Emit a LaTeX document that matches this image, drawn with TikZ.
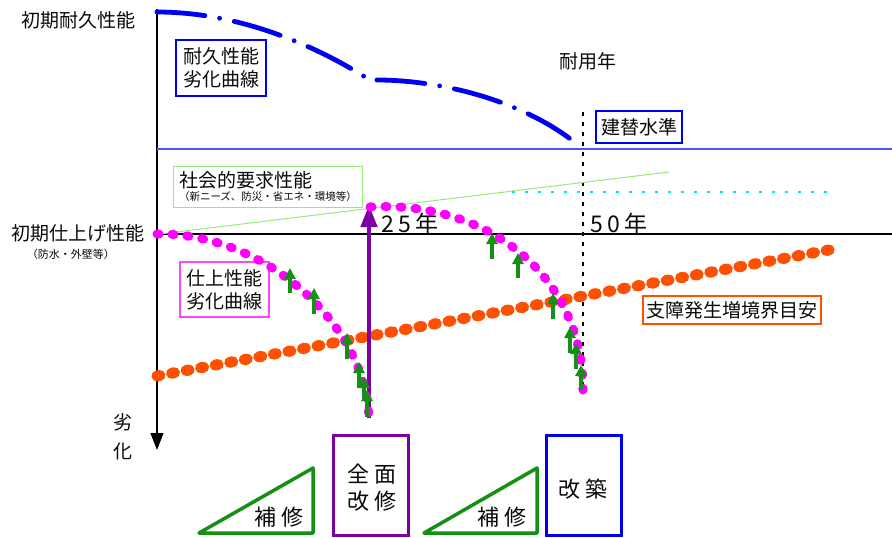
\documentclass[tikz,border=0pt]{standalone}
\usepackage{fontspec}
\newfontfamily\jpfont{Noto Sans CJK JP}
\usetikzlibrary{arrows.meta}
\definecolor{durBlue}{RGB}{0,0,240}
\definecolor{lineBlue}{RGB}{80,80,255}
\definecolor{finMagenta}{RGB}{255,0,255}
\definecolor{boxMagenta}{RGB}{255,70,255}
\definecolor{riskOrange}{RGB}{255,80,0}
\definecolor{socGreen}{RGB}{150,235,120}
\definecolor{fixGreen}{RGB}{20,145,20}
\definecolor{renPurple}{RGB}{125,0,160}
\definecolor{txtDark}{RGB}{10,10,10}
\definecolor{refCyan}{RGB}{0,230,240}
\tikzset{labelBig/.style={font=\jpfont\fontsize{19}{23}\selectfont, inner sep=0pt, text=txtDark}}
\tikzset{labelSmall/.style={font=\jpfont\fontsize{11}{13}\selectfont, inner sep=0pt, text=txtDark}}
\tikzset{curveBox/.style={labelBig, draw, line width=1.2pt, align=center}}
\tikzset{workText/.style={font=\jpfont\fontsize{22}{27}\selectfont, inner sep=0pt, align=center, text=txtDark}}
\tikzset{yearText/.style={font=\jpfont\fontsize{23}{26}\selectfont, inner sep=0pt, text=txtDark}}
\tikzset{fixArrow/.style={fixGreen, line width=3.5pt, -{Triangle[width=11pt,length=11pt]}}}
\tikzset{workFrame/.style={line width=3.5pt}}

\begin{document}
\begin{tikzpicture}[x=1pt,y=-1pt]
\useasboundingbox (0,0) rectangle (892,538);

\coordinate (axTop) at (157,9);
\coordinate (axBot) at (157,450);
\draw[line width=1.2pt, -{Triangle[width=13pt,length=17pt]}] (axTop) -- (axBot);
\draw[line width=1.2pt] (157,234) -- (892,234);
\draw[lineBlue, line width=1.5pt] (157,149) -- (892,149);

\node[labelBig] (durInit) at (78,20) {初期耐久性能};
\node[labelBig] (life) at (588,61) {耐用年};
\node[labelBig] (finInit) at (78,233) {初期仕上げ性能};
\node[labelSmall] (finNote) at (71,254) {（防水・外壁等）};
\node[font=\jpfont\fontsize{19}{29}\selectfont, inner sep=0pt, align=center, text=txtDark] (worse) at (123,437) {劣\\化};

\node[curveBox, draw=durBlue, minimum width=90pt, minimum height=56pt] (durBox) at (221,68) {耐久性能\\劣化曲線};
\node[curveBox, draw=durBlue, minimum width=86pt, minimum height=32pt] (rebuild) at (639,127) {建替水準};
\node[curveBox, draw=boxMagenta, minimum width=89pt, minimum height=55pt] (finBox) at (224.5,289.5) {仕上性能\\劣化曲線};
\node[curveBox, draw=riskOrange, minimum width=178pt, minimum height=28pt] (riskBox) at (732,310) {支障発生増境界目安};
\node[curveBox, draw=socGreen, line width=1pt, align=left, inner xsep=5.5pt, minimum height=41pt] (social) at (268,186.5)
  {社会的要求性能\\[-10pt]{\fontsize{10.5}{12}\selectfont （新ニーズ、防災・省エネ・環境等）}};

\draw[durBlue, line width=4.8pt, line cap=round, dash pattern=on 48pt off 15pt on 0pt off 15pt]
  (157,12) .. controls (250,12) and (330,55) .. (365,77);
\draw[durBlue, line width=4.8pt, line cap=round, dash pattern=on 48pt off 15pt on 0pt off 15pt]
  (377,80) .. controls (440,80) and (520,100) .. (573,141);

\draw[black, line width=2pt, dash pattern=on 4pt off 6pt] (583,112) -- (583,392);
\draw[socGreen, line width=1pt] (160,234) -- (669,172);
\draw[refCyan, line width=1.5pt, dash pattern=on 3pt off 10pt] (512,192) -- (830,192);

\draw[riskOrange, line width=11pt, line cap=round, dash pattern=on 3pt off 11.8pt] (157,376) -- (834,249);

\coordinate (finBot) at (369,418);
\coordinate (finTop) at (369,205);
\draw[renPurple, line width=4.5pt, -{Triangle[width=16pt,length=22pt]}] (finBot) -- (finTop);

\draw[finMagenta, line width=9pt, line cap=round, dash pattern=on 2pt off 13pt]
  (157,234) .. controls (260,232) and (365,320) .. (369,418);
\draw[finMagenta, line width=9pt, line cap=round, dash pattern=on 2pt off 13pt]
  (370,207) .. controls (480,200) and (583,270) .. (583,390);

\foreach \x/\ya/\yb in {290/293/268, 314/314/288, 347/359/333, 359/388/362, 364/397/377, 367/417/390,
  492/259/233, 518/278/253, 553/319/293, 570/353/327, 576/369/343, 581/390/365}
  \draw[fixArrow] (\x,\ya) -- (\x,\yb);

\node[yearText] (y25) at (410,224) {2\kern4pt 5\kern4pt 年};
\node[yearText] (y50) at (619,224) {5\kern4pt 0\kern4pt 年};

\draw[fixGreen, workFrame, line join=round] (199,533) -- (313,468) -- (313,533) -- cycle;
\node[workText] (fix1) at (279,517) {補\kern5pt 修};
\draw[fixGreen, workFrame, line join=round] (424,533) -- (537,468) -- (537,533) -- cycle;
\node[workText] (fix2) at (502,517) {補\kern5pt 修};

\draw[renPurple, workFrame] (333.5,435.5) rectangle (408.5,535.5);
\node[workText] (renew) at (372,488) {全\kern5pt 面\\改\kern5pt 修};
\draw[durBlue, workFrame] (546.5,435.5) rectangle (621.5,535.5);
\node[workText] (rebuildWork) at (583,489) {改\kern5pt 築};

\end{tikzpicture}
\end{document}
